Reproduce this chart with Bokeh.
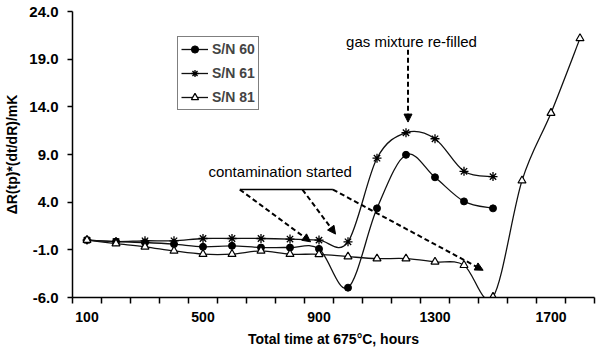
import numpy as np
from bokeh.plotting import figure
from bokeh.models import (FixedTicker, Range1d, Legend, LegendItem, Arrow,
                          NormalHead, Label)
from bokeh.embed import file_html
from bokeh.resources import INLINE

# ---- data -----------------------------------------------------------------
hours = [100, 200, 300, 400, 500, 600, 700, 800, 900, 1000, 1100, 1200,
         1300, 1400, 1500, 1600, 1700, 1800]
sn60 = [0.02, -0.13, -0.23, -0.40, -0.68, -0.58, -0.76, -0.76, -0.90, -4.97,
        3.35, 8.97, 6.61, 4.08, 3.35]
sn61 = [0.02, -0.13, -0.05, -0.05, 0.19, 0.19, 0.19, 0.13, 0.02, -0.16,
        8.61, 11.28, 10.65, 7.24, 6.68]
sn81 = [0.02, -0.34, -0.68, -1.11, -1.45, -1.45, -1.11, -1.45, -1.47, -1.71,
        -1.92, -1.92, -2.26, -2.61, -5.95, 6.26, 13.35, 21.18]
series_names = ["S/N 60", "S/N 61", "S/N 81"]
x_tick_values = [100, 500, 900, 1300, 1700]
x_tick_labels = ["100", "500", "900", "1300", "1700"]
y_tick_values = [-6, -1, 4, 9, 14, 19, 24]
y_tick_labels = ["-6.0", "-1.0", "4.0", "9.0", "14.0", "19.0", "24.0"]

FONT = "Liberation Sans"


def bezier_parts(xs, ys):
    """Smoothed (Catmull-Rom style) segments expressed as cubic Bezier parts."""
    x = np.asarray(xs, float)
    y = np.asarray(ys, float)
    n = len(x)
    xp = np.concatenate([[x[0]], x, [x[-1]]])
    yp = np.concatenate([[y[0]], y, [y[-1]]])
    d = dict(x0=[], y0=[], x1=[], y1=[], cx0=[], cy0=[], cx1=[], cy1=[])
    for i in range(n - 1):
        j = i + 1
        d["x0"].append(x[i]); d["y0"].append(y[i])
        d["x1"].append(x[i + 1]); d["y1"].append(y[i + 1])
        d["cx0"].append(x[i] + (xp[j + 1] - xp[j - 1]) / 6)
        d["cy0"].append(y[i] + (yp[j + 1] - yp[j - 1]) / 6)
        d["cx1"].append(x[i + 1] - (xp[j + 2] - xp[j]) / 6)
        d["cy1"].append(y[i + 1] - (yp[j + 2] - yp[j]) / 6)
    return d


p = figure(width=600, height=357, x_range=Range1d(50, 1850),
           y_range=Range1d(-6, 24), output_backend="svg",
           toolbar_location=None, min_border_left=72, min_border_right=6,
           min_border_top=11, min_border_bottom=60)
p.background_fill_color = "white"
p.border_fill_color = "white"
p.outline_line_color = None
p.xgrid.visible = False
p.ygrid.visible = False

# axes
p.xaxis.ticker = FixedTicker(ticks=x_tick_values,
                             minor_ticks=list(range(50, 1851, 100)))
p.xaxis.major_label_overrides = dict(zip(x_tick_values, x_tick_labels))
p.xaxis.major_tick_out = 0
p.xaxis.major_tick_in = 0
p.xaxis.minor_tick_out = 6
p.xaxis.minor_tick_in = 0
p.xaxis.minor_tick_line_color = "black"
p.xaxis.minor_tick_line_width = 1.5
p.xaxis.major_label_standoff = 8
p.xaxis.axis_label = "Total time at 675°C, hours"
p.xaxis.axis_label_standoff = 6

p.yaxis.ticker = FixedTicker(ticks=y_tick_values, minor_ticks=[])
p.yaxis.major_label_overrides = dict(zip(y_tick_values, y_tick_labels))
p.yaxis.major_tick_out = 5
p.yaxis.major_tick_in = 0
p.yaxis.major_label_standoff = 9
p.yaxis.axis_label = "ΔR(tp)*(dt/dR)/mK"
p.yaxis.axis_label_standoff = 6

for ax in (p.xaxis[0], p.yaxis[0]):
    ax.axis_line_color = "black"
    ax.axis_line_width = 1.5
    ax.major_tick_line_color = "black"
    ax.major_tick_line_width = 1.5
    ax.major_label_text_font = FONT
    ax.major_label_text_font_size = "14px"
    ax.major_label_text_font_style = "bold"
    ax.major_label_text_color = "black"
    ax.axis_label_text_font = FONT
    ax.axis_label_text_font_size = "14px"
    ax.axis_label_text_font_style = "bold"
    ax.axis_label_text_color = "black"
p.yaxis.major_label_text_font_size = "15px"

# series
items = []
specs = [
    (sn60, dict(marker="circle", size=7, fill_color="black", line_color="black")),
    (sn61, dict(marker="asterisk", size=9, line_color="black", line_width=1.3)),
    (sn81, dict(marker="triangle", size=8, fill_color="white", line_color="black", line_width=1.2)),
]
for name, (vals, mk) in zip(series_names, specs):
    xs = hours[:len(vals)]
    bz = p.bezier(source=bezier_parts(xs, vals), x0="x0", y0="y0", x1="x1",
                  y1="y1", cx0="cx0", cy0="cy0", cx1="cx1", cy1="cy1",
                  line_color="#111111", line_width=1.3)
    sc = p.scatter(xs, vals, **mk)
    items.append(LegendItem(label=name, renderers=[bz, sc]))

legend = Legend(items=items, location=(105, 187))
legend.border_line_color = "black"
legend.border_line_width = 1.2
legend.background_fill_color = "white"
legend.background_fill_alpha = 1
legend.label_text_font = FONT
legend.label_text_font_size = "14px"
legend.label_text_font_style = "bold"
legend.label_height = 18
legend.glyph_height = 18
legend.glyph_width = 27
legend.spacing = 6
legend.padding = 3
legend.margin = 0
legend.label_standoff = 4
p.add_layout(legend, "center")

# annotations
p.segment(x0=[627], y0=[5.32], x1=[948], y1=[5.32], line_color="black",
          line_width=1.5)
arrows = [
    (627, 5.32, 871, -0.16),
    (843, 5.32, 957, 0.65),
    (948, 5.32, 1466, -3.14),
    (1207, 20.0, 1207, 12.4),
]
for xs0, ys0, xe, ye in arrows:
    p.add_layout(Arrow(end=NormalHead(size=8, fill_color="black",
                                      line_color="black"),
                       x_start=xs0, y_start=ys0, x_end=xe, y_end=ye,
                       line_color="black", line_width=2, line_dash="5 3"))

p.add_layout(Label(x=766, y=7.21, text="contamination started",
                   text_font=FONT, text_font_size="15px",
                   text_align="center", text_baseline="middle",
                   text_color="black"))
p.add_layout(Label(x=1219, y=20.9, text="gas mixture re-filled",
                   text_font=FONT, text_font_size="15px",
                   text_align="center", text_baseline="middle",
                   text_color="black"))

open("out.html", "w").write(file_html(p, INLINE))
